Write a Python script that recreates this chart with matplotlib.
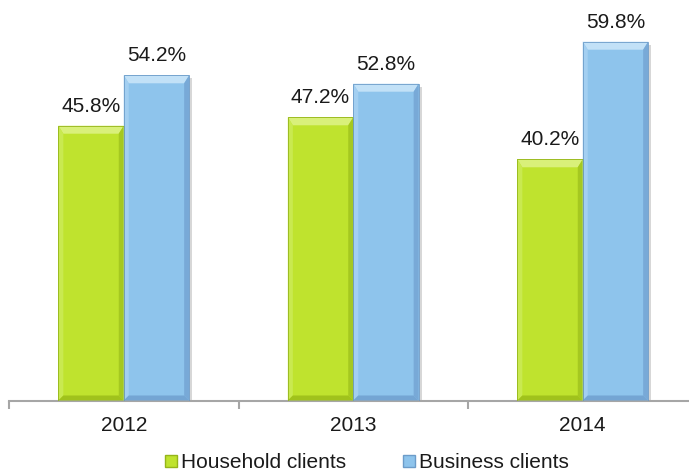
import matplotlib
matplotlib.use("Agg")
import matplotlib.pyplot as plt
from matplotlib.patches import Polygon
import numpy as np

plt.rcParams['font.family'] = ['Liberation Sans', 'DejaVu Sans']

years = ["2012", "2013", "2014"]
household = [45.8, 47.2, 40.2]
business = [54.2, 52.8, 59.8]
series_names = ["Household clients", "Business clients"]

# face, top, left, right, bottom, outline
green = ["#bfe32e", "#d9f07a", "#c9e950", "#a5c820", "#a0c21c", "#95b51a"]
blue = ["#8ec4ec", "#c2e1f7", "#a3cff1", "#78a9d7", "#74a5d3", "#6c9cc9"]

fig = plt.figure(figsize=(6.89, 4.72), dpi=100)
W, H = 689, 472
ax = fig.add_axes([9 / W, (H - 400.5) / H, 688.5 / W, 396 / H])
ax.set_xlim(-0.5, 2.5)
ax.set_ylim(0, 66)

x = np.arange(len(years))
w = 0.285
b1 = ax.bar(x - w / 2, household, w, color=green[0], label=series_names[0], zorder=2)
b2 = ax.bar(x + w / 2, business, w, color=blue[0], label=series_names[1], zorder=2)

# bevel sizes in pixels -> data units
px_x = 3.0 / 688.5
px_y = 66 / 396.0
side, top, bot = 5 * px_x, 8 * px_y, 5 * px_y


def bevel(rect, cols):
    x0, y0 = rect.get_x(), rect.get_y()
    x1, y1 = x0 + rect.get_width(), y0 + rect.get_height()
    # soft shadow on the right
    ax.add_patch(Polygon([(x1, y0), (x1 + 3 * px_x, y0), (x1 + 3 * px_x, y1 - 3 * px_y),
                          (x1, y1 - 3 * px_y)], closed=True, fc="#bdbdbd", ec="none",
                         alpha=0.6, zorder=1))
    parts = [
        ([(x0, y1), (x1, y1), (x1 - side, y1 - top), (x0 + side, y1 - top)], cols[1]),
        ([(x0, y0), (x0, y1), (x0 + side, y1 - top), (x0 + side, y0 + bot)], cols[2]),
        ([(x1, y0), (x1, y1), (x1 - side, y1 - top), (x1 - side, y0 + bot)], cols[3]),
        ([(x0, y0), (x1, y0), (x1 - side, y0 + bot), (x0 + side, y0 + bot)], cols[4]),
    ]
    for pts, c in parts:
        ax.add_patch(Polygon(pts, closed=True, fc=c, ec="none", zorder=3))
    ax.add_patch(Polygon([(x0, y0), (x0, y1), (x1, y1), (x1, y0)], closed=True,
                         fc="none", ec=cols[5], lw=0.6, zorder=4))


for r in b1:
    bevel(r, green)
for r in b2:
    bevel(r, blue)

for bars, vals in [(b1, household), (b2, business)]:
    for r, v in zip(bars, vals):
        ax.annotate(f"{v:.1f}%", (r.get_x() + r.get_width() / 2, r.get_height()),
                    xytext=(0, 10), textcoords="offset points", ha="center",
                    va="baseline", fontsize=15, color="#1a1a1a")

for s in ["top", "left", "right"]:
    ax.spines[s].set_visible(False)
ax.spines["bottom"].set_color("#a6a6a6")
ax.spines["bottom"].set_linewidth(1.5)
ax.set_yticks([])
ax.set_xticks(x)
ax.set_xticklabels(years, fontsize=15, color="#1a1a1a")
ax.tick_params(axis="x", which="major", length=0, pad=11)
ax.set_xticks(np.arange(-0.5, 3.0, 1.0), minor=True)
ax.tick_params(axis="x", which="minor", length=6, width=1.5, color="#a6a6a6")

leg = fig.legend(handles=[b1, b2], labels=series_names, loc="center",
                 bbox_to_anchor=(367 / W, 1 - 463 / H), ncol=2, frameon=False,
                 fontsize=15, handlelength=0.55, handleheight=0.55,
                 handletextpad=0.2, columnspacing=2.75, labelcolor="#1a1a1a")
for h, c in zip(leg.legend_handles, [green, blue]):
    h.set_edgecolor(c[5])
    h.set_linewidth(1.0)

fig.savefig("out.png", dpi=100)
